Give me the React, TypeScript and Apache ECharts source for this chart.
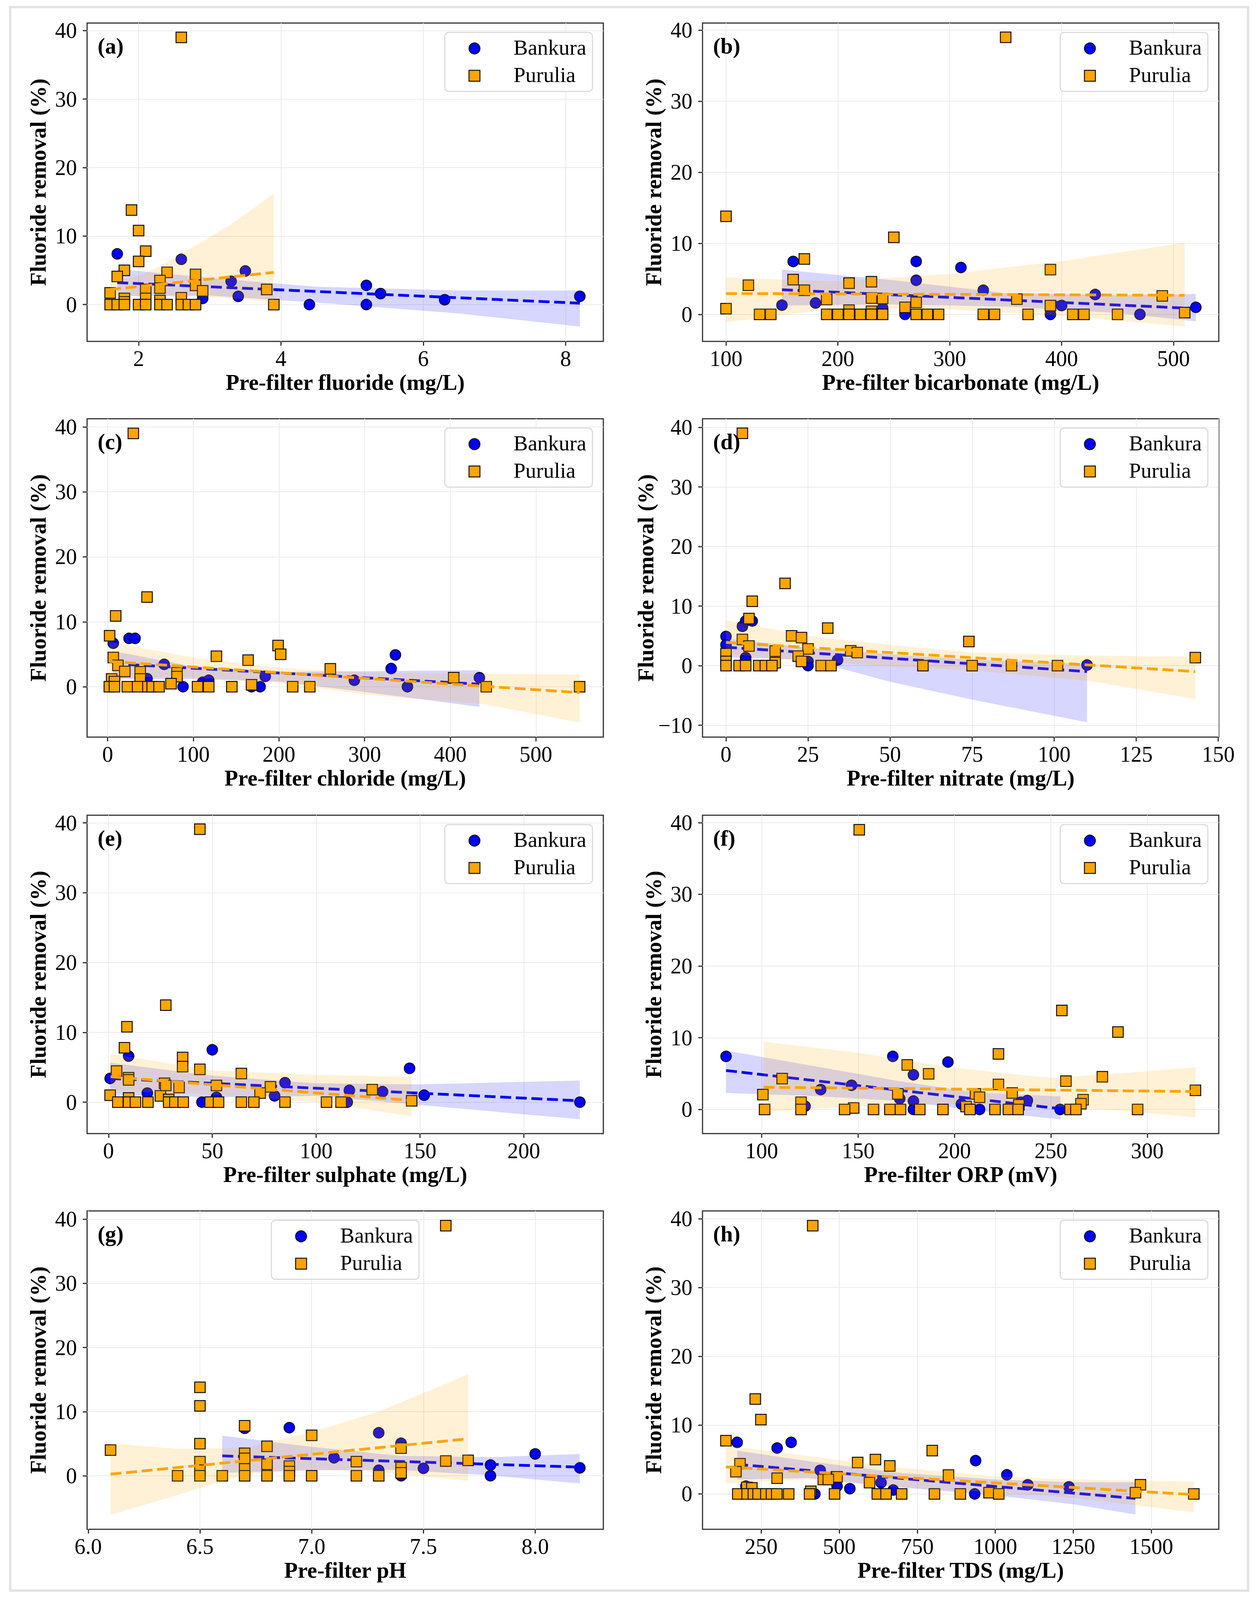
import React, { useEffect, useRef } from "react";
import * as echarts from "echarts";

// ---------- (a) fluoride ----------
const fluorideBankX = [1.7, 2.6, 3.5, 3.3, 3.4, 2.9, 4.4, 5.2, 5.2, 5.4, 6.3, 8.2];
const fluorideBankY = [7.4, 6.6, 4.9, 3.4, 1.2, 0.9, 0.0, 2.8, 0.0, 1.6, 0.7, 1.2];
const fluoridePurX = [2.6, 1.9, 2.0, 2.1, 2.0, 1.8, 1.7, 2.4, 2.8, 2.3, 2.3, 2.1, 2.8, 2.9, 1.6, 3.8, 1.8, 2.1, 2.3, 2.6, 1.8, 1.6, 1.7, 1.8, 2.0, 2.1, 2.3, 2.4, 2.6, 2.7, 2.8, 3.9];
const fluoridePurY = [39.0, 13.8, 10.8, 7.8, 6.3, 5.0, 4.1, 4.7, 4.4, 3.5, 2.4, 2.2, 2.8, 2.0, 1.7, 2.2, 0.9, 0.9, 0.6, 1.0, 0.4, 0, 0, 0, 0, 0, 0, 0, 0, 0, 0, 0];
const fluorideBankFit = [[1.7, 3.2], [8.2, 0.2]];
const fluoridePurFit = [[1.6, 2.2], [3.9, 4.7]];
const fluorideBankBandX = [1.7, 3.0, 4.5, 6.5, 8.2];
const fluorideBankBandHi = [5.2, 3.9, 2.6, 2.05, 2.05];
const fluorideBankBandLo = [1.2, 1.3, 0.3, -1.3, -3.2];
const fluoridePurBandX = [1.6, 2.0, 2.3, 2.8, 3.3, 3.9];
const fluoridePurBandHi = [3.3, 4.2, 5.6, 8.6, 11.7, 16.2];
const fluoridePurBandLo = [0.9, 1.3, 1.3, 1.2, 0.9, 0.4];
const fluorideTicks = [2, 4, 6, 8];

// ---------- (b) bicarbonate ----------
const bicarbBankX = [160, 150, 180, 270, 270, 240, 260, 310, 330, 390, 390, 400, 430, 470, 520];
const bicarbBankY = [7.45, 1.3, 1.6, 7.45, 4.8, 0.9, 0, 6.6, 3.4, 0, 0.7, 1.25, 2.8, 0, 1.0];
const bicarbPurX = [350, 100, 250, 170, 390, 160, 120, 210, 230, 170, 190, 230, 240, 360, 490, 270, 260, 390, 100, 210, 230, 510, 130, 140, 190, 200, 210, 220, 230, 240, 270, 280, 290, 330, 340, 370, 410, 420, 450];
const bicarbPurY = [39.0, 13.8, 10.85, 7.8, 6.3, 4.9, 4.1, 4.4, 4.6, 3.4, 2.1, 2.3, 2.25, 2.15, 2.6, 1.7, 1.0, 1.25, 0.8, 0.6, 0.45, 0.25, 0, 0, 0, 0, 0, 0, 0, 0, 0, 0, 0, 0, 0, 0, 0, 0, 0];
const bicarbBankFit = [[150, 3.47], [520, 0.82]];
const bicarbPurFit = [[100, 2.94], [510, 2.69]];
const bicarbBankBandX = [150, 250, 350, 450, 520];
const bicarbBankBandHi = [6.3, 4.8, 3.0, 2.7, 2.86];
const bicarbBankBandLo = [1.25, 1.4, 1.1, 0.2, -0.97];
const bicarbPurBandX = [100, 200, 300, 400, 510];
const bicarbPurBandHi = [5.2, 4.65, 5.7, 7.5, 10.1];
const bicarbPurBandLo = [-1.1, 0.9, 0.7, -0.2, -1.7];
const bicarbTicks = [100, 200, 300, 400, 500];

// ---------- (c) chloride ----------
const chlorBankX = [6.6, 25, 32, 66, 46, 88, 111, 118, 168, 178, 184, 288, 331, 336, 350, 434];
const chlorBankY = [6.7, 7.45, 7.45, 3.45, 1.25, 0, 0.7, 1.0, 0, 0, 1.6, 1.0, 2.8, 4.9, 0, 1.4];
const chlorPurX = [30, 46, 9.4, 2.3, 6.6, 12, 20, 38, 38, 81, 81, 74, 127, 164, 199, 202, 260, 168, 404, 4.7, 8, 2, 8, 23, 35, 47, 52, 60, 105, 118, 145, 216, 236, 442, 551];
const chlorPurY = [39.0, 13.8, 10.9, 7.85, 4.5, 3.3, 2.35, 2.3, 1.2, 2.15, 1.55, 0.47, 4.7, 4.1, 6.35, 5.0, 2.75, 0.3, 1.4, 1.2, 0.8, 0, 0, 0, 0, 0, 0, 0, 0, 0, 0, 0, 0, 0, 0];
const chlorBankFit = [[6, 3.55], [434, 0.4]];
const chlorPurFit = [[2, 3.9], [551, -0.9]];
const chlorBankBandX = [6, 100, 200, 300, 434];
const chlorBankBandHi = [5.5, 3.1, 2.3, 2.4, 2.55];
const chlorBankBandLo = [1.2, 1.2, 0.8, -0.8, -3.1];
const chlorPurBandX = [2, 100, 200, 300, 440, 551];
const chlorPurBandHi = [6.9, 4.5, 2.9, 2.2, 2.0, 1.9];
const chlorPurBandLo = [1.6, 1.4, 0.6, -1.2, -2.7, -5.5];
const chlorTicks = [0, 100, 200, 300, 400, 500];

// ---------- (d) nitrate ----------
const nitrBankX = [0, 0, 5, 6, 8, 6, 6, 25, 25, 34, 110];
const nitrBankY = [4.9, 3.5, 6.6, 7.5, 7.5, 1.35, 0.95, 0.7, 0, 0.95, 0.1];
const nitrPurX = [5, 18, 8, 7, 5, 7, 20, 23, 31, 25, 15, 15, 22, 23, 38, 40, 74, 143, 0, 0, 0, 4, 6, 10, 12, 14, 29, 32, 60, 75, 87, 101];
const nitrPurY = [39.0, 13.8, 10.8, 7.9, 4.4, 3.3, 5.0, 4.7, 6.3, 2.8, 2.45, 0.5, 1.6, 0.7, 2.5, 2.2, 4.05, 1.35, 2.0, 0.7, 0, 0, 0, 0, 0, 0, 0, 0, 0, 0, 0, 0];
const nitrBankFit = [[0, 3.1], [110, -1.0]];
const nitrPurFit = [[0, 3.9], [143, -1.0]];
const nitrBankBandX = [0, 25, 50, 75, 110];
const nitrBankBandHi = [4.6, 3.0, 1.9, 1.0, 0.3];
const nitrBankBandLo = [1.4, 1.0, -2.7, -5.7, -9.5];
const nitrPurBandX = [0, 25, 50, 75, 110, 143];
const nitrPurBandHi = [7.6, 5.0, 3.5, 2.2, 1.7, 1.5];
const nitrPurBandLo = [2.0, 0.7, -0.1, -0.8, -2.5, -5.6];
const nitrTicks = [0, 25, 50, 75, 100, 125, 150];

// ---------- (e) sulphate ----------
const sulphBankX = [0.8, 9.7, 18.7, 50, 52, 45, 85, 80, 116, 115, 132, 145, 152, 227];
const sulphBankY = [3.4, 6.6, 1.3, 7.5, 0.7, 0, 2.8, 0.9, 1.7, 0, 1.5, 4.85, 1.0, 0];
const sulphPurX = [44, 27.6, 8.9, 7.7, 35.7, 35.7, 44, 3.9, 64, 9.7, 9.7, 27, 27.6, 34, 52, 78, 73, 127, 0.8, 9.7, 25, 29, 146, 4.5, 9.7, 13, 19, 29, 32, 36, 49, 53, 64, 70, 85, 105, 112];
const sulphPurY = [39.1, 13.9, 10.8, 7.8, 6.4, 5.1, 4.7, 4.45, 4.1, 3.5, 3.2, 2.7, 2.4, 2.1, 2.4, 2.2, 1.3, 1.8, 1.0, 0.6, 0.9, 0.4, 0.2, 0, 0, 0, 0, 0, 0, 0, 0, 0, 0, 0, 0, 0, 0];
const sulphBankFit = [[0.8, 3.4], [227, 0.2]];
const sulphPurFit = [[1, 3.65], [146, 0.25]];
const sulphBankBandX = [0.8, 50, 100, 150, 227];
const sulphBankBandHi = [5.65, 3.8, 2.7, 2.55, 3.1];
const sulphBankBandLo = [1.1, 0.7, 0.9, -0.4, -2.45];
const sulphPurBandX = [1, 50, 100, 146];
const sulphPurBandHi = [6.9, 4.55, 3.9, 3.65];
const sulphPurBandLo = [1.65, 1.1, 0, -2.0];
const sulphTicks = [0, 50, 100, 150, 200];

// ---------- (f) ORP ----------
const orpBankX = [81.5, 130.6, 122.5, 146.6, 168, 171.6, 178.7, 178.7, 178.7, 196.6, 203.6, 208.8, 213, 234.4, 237.8, 254.8];
const orpBankY = [7.4, 2.77, 0.46, 3.37, 7.4, 1.5, 4.83, 1.17, 0, 6.6, 0.75, 0, 0, 1.0, 1.24, 0];
const orpPurX = [150.6, 255.7, 284.8, 222.8, 175.5, 186.6, 110.6, 276.7, 257.8, 222.8, 229.9, 210.9, 213, 100.6, 170.6, 325, 266.7, 265.6, 120.4, 147.7, 206, 233.4, 101.5, 120.4, 143, 158, 166.5, 172, 182, 194, 208, 221, 228, 233, 260, 263, 295];
const orpPurY = [39.0, 13.8, 10.8, 7.74, 6.2, 4.97, 4.3, 4.55, 3.94, 3.48, 2.3, 2.17, 1.7, 2.06, 2.17, 2.66, 1.35, 0.8, 1.0, 0.2, 0.4, 0.64, 0, 0, 0, 0, 0, 0, 0, 0, 0, 0, 0, 0, 0, 0, 0];
const orpBankFit = [[81.5, 5.43], [255, 0.1]];
const orpPurFit = [[101, 3.1], [325, 2.5]];
const orpBankBandX = [81.5, 125, 170, 210, 255];
const orpBankBandHi = [8.2, 6.15, 4.0, 2.4, 1.8];
const orpBankBandLo = [2.3, 1.9, 1.2, -0.1, -1.4];
const orpPurBandX = [101, 150, 200, 250, 290, 325];
const orpPurBandHi = [9.45, 7.9, 5.8, 4.4, 5.1, 5.9];
const orpPurBandLo = [-0.4, 0.46, 0.8, 0.45, -0.25, -1.1];
const orpTicks = [100, 150, 200, 250, 300];

// ---------- (g) pH ----------
const phBankX = [6.7, 6.9, 7.3, 7.4, 7.1, 7.3, 7.4, 7.5, 7.8, 7.8, 8.0, 8.2];
const phBankY = [7.4, 7.5, 6.7, 5.07, 2.8, 0.86, 0, 1.15, 1.67, 0, 3.4, 1.23];
const phPurX = [7.6, 6.5, 6.5, 6.7, 7.0, 6.5, 6.8, 7.4, 6.1, 6.7, 6.7, 6.5, 7.2, 7.6, 7.7, 6.8, 6.9, 7.4, 6.7, 6.5, 7.4, 6.9, 6.4, 6.5, 6.6, 6.7, 6.8, 6.9, 7.0, 7.2, 7.3];
const phPurY = [39.0, 13.8, 10.9, 7.8, 6.3, 5.0, 4.6, 4.3, 4.0, 3.5, 2.7, 2.2, 2.2, 2.3, 2.4, 1.8, 1.5, 1.27, 1.06, 0.86, 0.45, 0.65, 0, 0, 0, 0, 0, 0, 0, 0, 0];
const phBankFit = [[6.6, 3.1], [8.2, 1.35]];
const phPurFit = [[6.1, 0.25], [7.7, 5.76]];
const phBankBandX = [6.6, 7.0, 7.4, 7.8, 8.2];
const phBankBandHi = [6.25, 4.5, 3.1, 2.9, 3.4];
const phBankBandLo = [0.45, 0.86, 0.9, 0.05, -1.2];
const phPurBandX = [6.1, 6.4, 6.7, 7.0, 7.3, 7.7];
const phPurBandHi = [5.07, 4.2, 4.3, 6.8, 10.0, 15.8];
const phPurBandLo = [-6.1, -3.0, 0.2, 1.0, 0.6, -0.8];
const phTicks = [6.0, 6.5, 7.0, 7.5, 8.0];

// ---------- (h) TDS ----------
const tdsBankX = [173, 301, 346, 439, 422, 493, 534, 634, 673, 937, 934, 1037, 1104, 1236, 201];
const tdsBankY = [7.5, 6.67, 7.5, 3.43, 0, 1.14, 0.76, 1.64, 0.57, 4.84, 0, 2.78, 1.33, 1.03, 1.14];
const tdsPurX = [415, 231, 249, 137, 798, 616, 559, 662, 182, 169, 850, 301, 493, 449, 465, 597, 1465, 204, 220, 980, 409, 1449, 175, 205, 225, 240, 265, 283, 300, 338, 405, 485, 622, 650, 700, 805, 888, 1011, 1636];
const tdsPurY = [39.0, 13.8, 10.8, 7.73, 6.3, 5.0, 4.57, 4.08, 4.38, 3.24, 2.74, 2.29, 2.48, 2.1, 2.1, 1.64, 1.33, 0.95, 0.88, 0.19, 0.38, 0.19, 0, 0, 0, 0, 0, 0, 0, 0, 0, 0, 0, 0, 0, 0, 0, 0, 0];
const tdsBankFit = [[173, 4.3], [1449, -0.65]];
const tdsPurFit = [[137, 3.92], [1636, -0.1]];
const tdsBankBandX = [173, 400, 700, 1000, 1250, 1449];
const tdsBankBandHi = [6.3, 4.76, 3.05, 2.1, 1.7, 1.7];
const tdsBankBandLo = [2.1, 2.3, 0.95, -0.2, -1.5, -3.0];
const tdsPurBandX = [137, 400, 700, 1000, 1250, 1636];
const tdsPurBandHi = [7.05, 5.5, 3.8, 2.55, 2.1, 1.8];
const tdsPurBandLo = [1.52, 2.1, 0.95, 0.2, -0.57, -2.67];
const tdsTicks = [250, 500, 750, 1000, 1250, 1500];

const yTicksStd = [0, 10, 20, 30, 40];
const yTicksNitrate = [-10, 0, 10, 20, 30, 40];
const seriesNames = ["Bankura", "Purulia"];
const yTitle = "Fluoride removal (%)";

const panels = [
  { tag: "(a)", xName: "Pre-filter fluoride (mg/L)", xr: [1.276, 8.53], yr: [-5.38, 41.1], xt: fluorideTicks, yt: yTicksStd, dec: 0, legendMid: false,
    bx: fluorideBankX, by: fluorideBankY, px: fluoridePurX, py: fluoridePurY, bf: fluorideBankFit, pf: fluoridePurFit,
    bb: [fluorideBankBandX, fluorideBankBandHi, fluorideBankBandLo], pb: [fluoridePurBandX, fluoridePurBandHi, fluoridePurBandLo] },
  { tag: "(b)", xName: "Pre-filter bicarbonate (mg/L)", xr: [79, 540.5], yr: [-3.8, 41.0], xt: bicarbTicks, yt: yTicksStd, dec: 0, legendMid: false,
    bx: bicarbBankX, by: bicarbBankY, px: bicarbPurX, py: bicarbPurY, bf: bicarbBankFit, pf: bicarbPurFit,
    bb: [bicarbBankBandX, bicarbBankBandHi, bicarbBankBandLo], pb: [bicarbPurBandX, bicarbPurBandHi, bicarbPurBandLo] },
  { tag: "(c)", xName: "Pre-filter chloride (mg/L)", xr: [-24, 578.7], yr: [-7.75, 41.25], xt: chlorTicks, yt: yTicksStd, dec: 0, legendMid: false,
    bx: chlorBankX, by: chlorBankY, px: chlorPurX, py: chlorPurY, bf: chlorBankFit, pf: chlorPurFit,
    bb: [chlorBankBandX, chlorBankBandHi, chlorBankBandLo], pb: [chlorPurBandX, chlorPurBandHi, chlorPurBandLo] },
  { tag: "(d)", xName: "Pre-filter nitrate (mg/L)", xr: [-7.15, 150.15], yr: [-12.0, 41.45], xt: nitrTicks, yt: yTicksNitrate, dec: 0, legendMid: false,
    bx: nitrBankX, by: nitrBankY, px: nitrPurX, py: nitrPurY, bf: nitrBankFit, pf: nitrPurFit,
    bb: [nitrBankBandX, nitrBankBandHi, nitrBankBandLo], pb: [nitrPurBandX, nitrPurBandHi, nitrPurBandLo] },
  { tag: "(e)", xName: "Pre-filter sulphate (mg/L)", xr: [-10.3, 238.3], yr: [-4.5, 41.1], xt: sulphTicks, yt: yTicksStd, dec: 0, legendMid: false,
    bx: sulphBankX, by: sulphBankY, px: sulphPurX, py: sulphPurY, bf: sulphBankFit, pf: sulphPurFit,
    bb: [sulphBankBandX, sulphBankBandHi, sulphBankBandLo], pb: [sulphPurBandX, sulphPurBandHi, sulphPurBandLo] },
  { tag: "(f)", xName: "Pre-filter ORP (mV)", xr: [69.3, 337.1], yr: [-3.37, 41.03], xt: orpTicks, yt: yTicksStd, dec: 0, legendMid: false,
    bx: orpBankX, by: orpBankY, px: orpPurX, py: orpPurY, bf: orpBankFit, pf: orpPurFit,
    bb: [orpBankBandX, orpBankBandHi, orpBankBandLo], pb: [orpPurBandX, orpPurBandHi, orpPurBandLo] },
  { tag: "(g)", xName: "Pre-filter pH", xr: [5.995, 8.305], yr: [-8.35, 41.3], xt: phTicks, yt: yTicksStd, dec: 1, legendMid: true,
    bx: phBankX, by: phBankY, px: phPurX, py: phPurY, bf: phBankFit, pf: phPurFit,
    bb: [phBankBandX, phBankBandHi, phBankBandLo], pb: [phPurBandX, phPurBandHi, phPurBandLo] },
  { tag: "(h)", xName: "Pre-filter TDS (mg/L)", xr: [62, 1716], yr: [-5.14, 41.14], xt: tdsTicks, yt: yTicksStd, dec: 0, legendMid: false,
    bx: tdsBankX, by: tdsBankY, px: tdsPurX, py: tdsPurY, bf: tdsBankFit, pf: tdsPurFit,
    bb: [tdsBankBandX, tdsBankBandHi, tdsBankBandLo], pb: [tdsPurBandX, tdsPurBandHi, tdsPurBandLo] },
];

const FONT = "'Liberation Serif', 'Times New Roman', Times, serif";
const BLUE = "#0000ff";
const ORANGE = "#ffa500";
const PAGE_W = 3224;
const PAGE_H = 4096; // visible area of the photographed window
const K = PAGE_H / 4603; // vertical fit factor
const COLS = [223, 1799];
const ROWS = [66, 1205, 2345, 3484].map((v) => Math.round(v * K));
const PW = 1322;
const PH = Math.round(916 * K);

function fmt(v: number, dec: number) {
  const s = dec ? v.toFixed(dec) : String(Math.round(v));
  return s.replace("-", "\u2212");
}

function band(i: number, b: number[][], color: string, z: number) {
  const [xs, hi, lo] = b;
  return {
    type: "custom",
    xAxisIndex: i,
    yAxisIndex: i,
    z,
    silent: true,
    data: [[xs[0], hi[0]]],
    encode: { x: 0, y: 1 },
    renderItem: (_p: any, api: any) => {
      const top = xs.map((x, k) => api.coord([x, hi[k]]));
      const bot = xs.map((x, k) => api.coord([x, lo[k]])).reverse();
      return { type: "polygon", shape: { points: top.concat(bot) }, style: { fill: color } };
    },
  };
}

function buildOption() {
  const grid: any[] = [];
  const xAxis: any[] = [];
  const yAxis: any[] = [];
  const series: any[] = [];
  const graphic: any[] = [];

  graphic.push({
    type: "rect", z: 0, silent: true,
    shape: { x: 26, y: Math.round(20 * K), width: 3170, height: Math.round(4556 * K) },
    style: { fill: "none", stroke: "#e3e3e3", lineWidth: 6 },
  });

  panels.forEach((p, i) => {
    const left = COLS[i % 2];
    const top = ROWS[Math.floor(i / 2)];
    grid.push({ left, top, width: PW, height: PH, show: true, borderColor: "#333", borderWidth: 3, backgroundColor: "#fff" });
    xAxis.push({
      type: "value", gridIndex: i, min: p.xr[0], max: p.xr[1], position: "bottom",
      axisLine: { show: false, onZero: false },
      axisTick: { show: true, length: 11, lineStyle: { color: "#333", width: 3 }, customValues: p.xt },
      axisLabel: { customValues: p.xt, formatter: (v: number) => fmt(v, p.dec), fontFamily: FONT, fontSize: 56, color: "#000", margin: 16 },
      splitLine: { show: true, lineStyle: { color: "#ebebeb", width: 2 } },
      name: p.xName, nameLocation: "middle", nameGap: 76,
      nameTextStyle: { fontFamily: FONT, fontSize: 57, fontWeight: "bold", color: "#000" },
    });
    yAxis.push({
      type: "value", gridIndex: i, min: p.yr[0], max: p.yr[1], position: "left",
      axisLine: { show: false, onZero: false },
      axisTick: { show: true, length: 11, lineStyle: { color: "#333", width: 3 }, customValues: p.yt },
      axisLabel: { customValues: p.yt, formatter: (v: number) => fmt(v, 0), fontFamily: FONT, fontSize: 56, color: "#000", margin: 26 },
      splitLine: { show: true, lineStyle: { color: "#ebebeb", width: 2 } },
      name: yTitle, nameLocation: "middle", nameGap: 97,
      nameTextStyle: { fontFamily: FONT, fontSize: 57, fontWeight: "bold", color: "#000" },
    });

    const bData = p.bx.map((x, k) => [x, p.by[k]]);
    const pData = p.px.map((x, k) => [x, p.py[k]]);
    series.push({
      type: "scatter", name: seriesNames[0], xAxisIndex: i, yAxisIndex: i, z: 2, data: bData,
      symbol: "circle", symbolSize: 27,
      itemStyle: { color: BLUE, borderColor: "#111", borderWidth: 2.5, opacity: 1 },
    });
    series.push(band(i, p.bb, "rgba(0,0,255,0.16)", 3));
    series.push({
      type: "line", xAxisIndex: i, yAxisIndex: i, z: 4, data: p.bf, symbol: "none", silent: true,
      lineStyle: { color: BLUE, width: 7, type: [28, 12] },
    });
    series.push({
      type: "scatter", name: seriesNames[1], xAxisIndex: i, yAxisIndex: i, z: 5, data: pData,
      symbol: "rect", symbolSize: 27,
      itemStyle: { color: ORANGE, borderColor: "#111", borderWidth: 2.5, opacity: 1 },
    });
    series.push(band(i, p.pb, "rgba(255,165,0,0.16)", 6));
    series.push({
      type: "line", xAxisIndex: i, yAxisIndex: i, z: 7, data: p.pf, symbol: "none", silent: true,
      lineStyle: { color: ORANGE, width: 7, type: [28, 12] },
    });

    // panel tag
    graphic.push({
      type: "text", z: 100, silent: true, x: left + 27, y: top + Math.round(65 * K),
      style: { text: p.tag, fontFamily: FONT, fontSize: 57, fontWeight: "bold", fill: "#000", verticalAlign: "middle", align: "left" },
    });

    // legend
    const lw = 378, lh = Math.round(170 * K);
    const lx = p.legendMid ? left + PW / 2 - lw / 2 : left + PW - 28 - lw;
    const ly = top + Math.round(27 * K);
    const r1 = Math.round(46 * K), r2 = Math.round(125 * K);
    graphic.push({
      type: "rect", z: 100, silent: true,
      shape: { x: lx, y: ly, width: lw, height: lh, r: 10 },
      style: { fill: "rgba(255,255,255,0.8)", stroke: "#d6d6d6", lineWidth: 2.5 },
    });
    graphic.push({
      type: "circle", z: 101, silent: true,
      shape: { cx: lx + 76, cy: ly + r1, r: 14 },
      style: { fill: BLUE, stroke: "#111", lineWidth: 2.5 },
    });
    graphic.push({
      type: "rect", z: 101, silent: true,
      shape: { x: lx + 76 - 14, y: ly + r2 - 14, width: 28, height: 28 },
      style: { fill: ORANGE, stroke: "#111", lineWidth: 2.5 },
    });
    graphic.push({
      type: "text", z: 101, silent: true, x: lx + 176, y: ly + r1 - 3,
      style: { text: seriesNames[0], fontFamily: FONT, fontSize: 55, fill: "#000", verticalAlign: "middle", align: "left" },
    });
    graphic.push({
      type: "text", z: 101, silent: true, x: lx + 176, y: ly + r2 - 3,
      style: { text: seriesNames[1], fontFamily: FONT, fontSize: 55, fill: "#000", verticalAlign: "middle", align: "left" },
    });
  });

  return { animation: false, backgroundColor: "#fff", grid, xAxis, yAxis, series, graphic };
}

export default function App() {
  const ref = useRef<HTMLDivElement>(null);
  useEffect(() => {
    if (!ref.current) return;
    const chart = echarts.init(ref.current, undefined, { renderer: "svg" });
    chart.setOption(buildOption() as any);
    return () => chart.dispose();
  }, []);
  return (
    <div
      ref={ref}
      style={{ position: "absolute", left: 0, top: 0, width: PAGE_W, height: PAGE_H, background: "#fff" }}
    />
  );
}
